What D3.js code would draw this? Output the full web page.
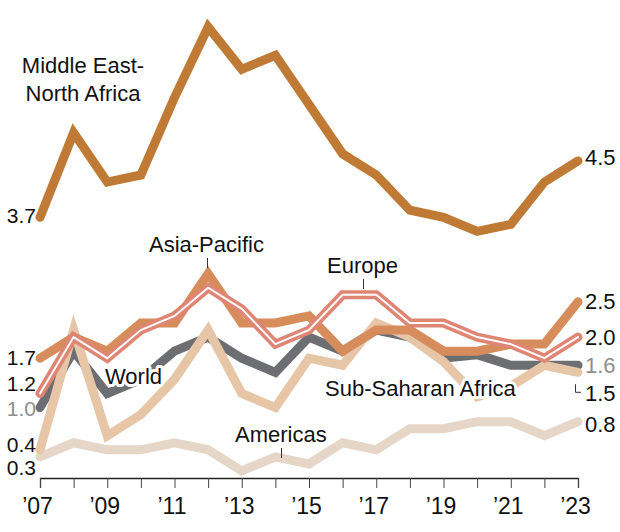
<!DOCTYPE html>
<html>
<head>
<meta charset="utf-8">
<title>Regional index chart</title>
<script src="https://cdnjs.cloudflare.com/ajax/libs/d3/7.8.5/d3.min.js"></script>
<style>
  html, body { margin: 0; padding: 0; background: #fff; }
  svg text { font-family: "Liberation Sans", Arial, sans-serif; }
</style>
</head>
<body>
<svg id="chart" width="620" height="532"></svg>
<script>
// data
const years = d3.range(2007, 2024);
const tickYears = [2007, 2009, 2011, 2013, 2015, 2017, 2019, 2021, 2023];

const mena         = [3.7, 4.9, 4.2, 4.3, 5.4, 6.4, 5.8, 6.0, 5.3, 4.6, 4.3, 3.8, 3.7, 3.5, 3.6, 4.2, 4.5];
const asiaPacific  = [1.7, 2.0, 1.8, 2.2, 2.2, 2.9, 2.2, 2.2, 2.3, 1.8, 2.1, 2.1, 1.8, 1.8, 1.9, 1.9, 2.5];
const europe       = [1.2, 2.0, 1.7, 2.1, 2.3, 2.7, 2.4, 1.9, 2.1, 2.6, 2.6, 2.2, 2.2, 2.0, 1.9, 1.7, 2.0];
const world        = [1.0, 1.8, 1.2, 1.4, 1.8, 2.0, 1.7, 1.5, 2.0, 1.8, 2.1, 2.0, 1.7, 1.75, 1.6, 1.6, 1.6];
const subSaharan   = [0.4, 2.1, 0.6, 0.9, 1.4, 2.1, 1.2, 1.0, 1.7, 1.6, 2.2, 2.0, 1.65, 1.15, 1.3, 1.6, 1.5];
const americas     = [0.3, 0.5, 0.4, 0.4, 0.5, 0.4, 0.1, 0.3, 0.2, 0.5, 0.4, 0.7, 0.7, 0.8, 0.8, 0.6, 0.8];

const series = [
  { name: "Americas", values: americas, color: "#e6d6c7", startLabel: "0.3", endLabel: "0.8" },
  { name: "World", values: world, color: "#6d6e72", startLabel: "1.0", endLabel: "1.6", labelColor: "#8e8e8e" },
  { name: "Sub-Saharan Africa", values: subSaharan, color: "#e6c6a6", startLabel: "0.4", endLabel: "1.5" },
  { name: "Middle East-North Africa", values: mena, color: "#bf7a35", startLabel: "3.7", endLabel: "4.5" },
  { name: "Asia-Pacific", values: asiaPacific, color: "#d68d5b", startLabel: "1.7", endLabel: "2.5" },
  { name: "Europe", values: europe, color: "#df8574", startLabel: "1.2", endLabel: "2.0", hollow: true }
];

const svg = d3.select("#chart");
const x = d3.scaleLinear().domain([2007, 2023]).range([40, 578]);
const y = d3.scaleLinear().domain([0, 6.5]).range([478, 20]);

const line = d3.line()
  .x((d, i) => x(years[i]))
  .y(d => y(d));

// lines
series.forEach(s => {
  svg.append("path")
    .attr("d", line(s.values))
    .attr("fill", "none")
    .attr("stroke", s.color)
    .attr("stroke-width", 9)
    .attr("stroke-linejoin", "miter")
    .attr("stroke-linecap", "round");
  if (s.hollow) {
    svg.append("path")
      .attr("d", line(s.values))
      .attr("fill", "none")
      .attr("stroke", "#fff")
      .attr("stroke-width", 2)
      .attr("stroke-linejoin", "miter")
      .attr("stroke-linecap", "round");
  }
});

// x axis
const xAxis = d3.axisBottom(x)
  .tickValues(years)
  .tickSize(10)
  .tickFormat(d => tickYears.includes(d) ? "\u2019" + String(d).slice(2) : "");
const gx = svg.append("g")
  .attr("transform", `translate(0,${y(0)})`)
  .call(xAxis);
gx.select(".domain").attr("stroke", "#222").attr("stroke-width", 1.3);
gx.selectAll(".tick line").attr("stroke", "#444").attr("stroke-width", 1);
gx.selectAll(".tick text")
  .attr("y", 20)
  .attr("dx", -3)
  .attr("fill", "#111")
  .style("font-size", "23px")
  .style("font-family", "'Liberation Sans', Arial, sans-serif");

// start / end value labels (nudged where they would collide)
const startOffsets = { "0.3": 11, "0.4": -5, "1.0": 1, "1.2": -10, "1.7": -1, "3.7": -2 };
const endOffsets = { "0.8": 3, "1.5": 21, "1.6": 0, "2.0": 0, "2.5": 0, "4.5": -3 };
series.forEach(s => {
  const v0 = s.values[0], v1 = s.values[s.values.length - 1];
  svg.append("text")
    .attr("x", 36)
    .attr("y", y(v0) + startOffsets[s.startLabel])
    .attr("text-anchor", "end")
    .attr("dominant-baseline", "central")
    .attr("fill", s.labelColor || "#111")
    .style("font-size", "21px")
    .text(s.startLabel);
  svg.append("text")
    .attr("x", 585)
    .attr("y", y(v1) + endOffsets[s.endLabel])
    .attr("dominant-baseline", "central")
    .attr("fill", s.labelColor || "#111")
    .style("font-size", "22px")
    .text(s.endLabel);
});

// L-shaped leader for Sub-Saharan end value
svg.append("path")
  .attr("d", `M575.5,${y(1.5) + 12}V${y(1.5) + 20}H581`)
  .attr("fill", "none")
  .attr("stroke", "#333")
  .attr("stroke-width", 1);

// series names
function label(txt, lx, ly, halo) {
  const t = svg.append("text")
    .attr("x", lx).attr("y", ly)
    .attr("fill", "#111")
    .style("font-size", "22px")
    .text(txt);
  if (halo) {
    t.attr("stroke", "#fff").attr("stroke-width", 6)
      .attr("stroke-linejoin", "round").attr("paint-order", "stroke");
  }
  return t;
}
const mid = svg.append("text")
  .attr("text-anchor", "middle")
  .attr("fill", "#111")
  .style("font-size", "22px");
mid.append("tspan").attr("x", 83).attr("y", 73).text("Middle East-");
mid.append("tspan").attr("x", 83).attr("y", 101).text("North Africa");

label("Asia-Pacific", 149, 252);
label("Europe", 327, 273);
label("World", 105, 384, true);
label("Sub-Saharan Africa", 325, 396, true);
label("Americas", 235, 442, true);

// leader ticks
[[207.5, 258, 268], [363.5, 279, 289], [281.5, 448, 458]].forEach(([lx, y0, y1]) => {
  svg.append("line")
    .attr("x1", lx).attr("x2", lx).attr("y1", y0).attr("y2", y1)
    .attr("stroke", "#333").attr("stroke-width", 1);
});
</script>
</body>
</html>
